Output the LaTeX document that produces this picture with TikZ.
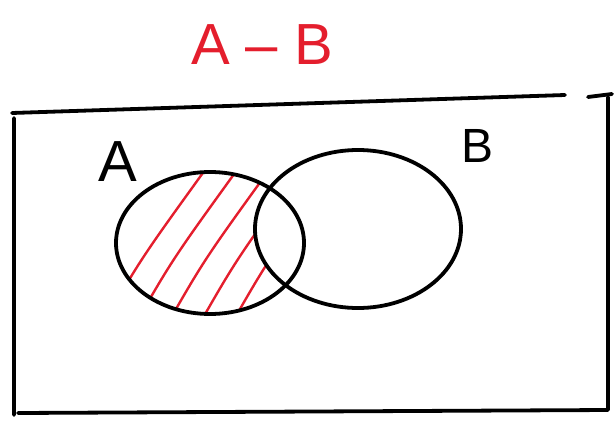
\documentclass[tikz,border=0pt]{standalone}
\usepackage{fontspec}
\setmainfont{Liberation Sans}
\usetikzlibrary{shapes.geometric}
\definecolor{penred}{RGB}{228,30,45}
\tikzset{
  pen/.style={line width=3.8pt,line cap=round,line join=round},
  setlabel/.style={font=\fontsize{58}{58}\selectfont,inner sep=0pt},
  hatch/.style={penred,line width=2.4pt,line cap=round}
}
\begin{document}
\begin{tikzpicture}[x=1pt,y=-1pt]
  \useasboundingbox (0,0) rectangle (615,420);

  % Title
  \node[setlabel,penred] (title) at (262,45) {A -- B};

  % Universe
  \draw[pen] (14,415) -- (14,118) (12,113) -- (565,95);
  \draw[pen] (588,97) -- (612,94);
  \draw[pen] (608,97) -- (608,410) -- (18,413);

  % Hatching of A without B
  \begin{scope}[even odd rule]
    \clip (210,243) ellipse (94 and 71);
    \clip (0,0) rectangle (615,420) (358,229) ellipse (103 and 79);
    \foreach \s in {0,32,...,224}
      \draw[hatch] (100+\s,330) .. controls (140+\s,260) .. (205+\s,170);
  \end{scope}

  % Sets
  \node[pen,draw,ellipse,minimum width=188,minimum height=142] (setA) at (210,243) {};
  \node[pen,draw,ellipse,minimum width=206,minimum height=158] (setB) at (358,229) {};
  \node[setlabel] (labA) at (118,162) {A};
  \node[setlabel,font=\fontsize{48}{48}\selectfont] (labB) at (478,146) {B};
\end{tikzpicture}
\end{document}
